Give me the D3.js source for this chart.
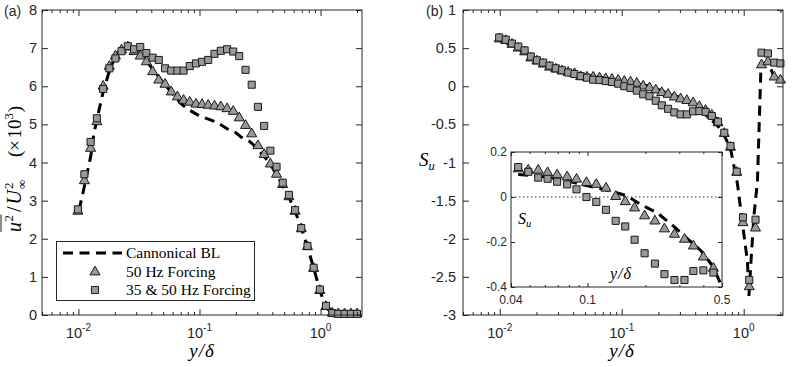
<!DOCTYPE html>
<html><head><meta charset="utf-8">
<script src="https://cdn.jsdelivr.net/npm/d3@7"></script>
<style>body{margin:0;background:#fff}svg{display:block}</style>
</head><body>
<svg id="c" width="793" height="367"></svg>
<script>
// ---------- DATA ----------
const yDelta = [0.0099,0.0112,0.0126,0.0142,0.0160,0.0180,0.0202,0.0227,0.0256,0.0288,
  0.0324,0.0364,0.0410,0.0461,0.0519,0.0584,0.0657,0.0739,0.0831,0.0935,
  0.105,0.118,0.133,0.150,0.169,0.190,0.213,0.240,0.270,0.304,
  0.342,0.385,0.433,0.487,0.548,0.616,0.693,0.780,0.877,0.987,
  1.11,1.25,1.40,1.58,1.78,2.0];
// (a) u'^2/U^2 x10^3
const uu50 = [2.72,3.52,4.37,5.07,6.0,6.52,6.79,6.95,7.03,6.91,
  6.79,6.64,6.38,6.16,6.05,5.85,5.72,5.63,5.58,5.53,
  5.52,5.5,5.48,5.46,5.41,5.34,5.17,4.97,4.75,4.44,
  4.21,3.96,3.69,3.42,3.1,2.72,2.26,1.79,1.22,0.64,
  0.22,0.05,0.03,0.03,0.03,0.03];
const uu3550 = [2.77,3.69,4.54,5.16,5.93,6.47,6.73,6.92,7.05,6.97,
  7.03,6.87,6.75,6.69,6.47,6.41,6.41,6.41,6.53,6.6,
  6.64,6.69,6.85,6.93,6.97,6.91,6.79,6.43,6.04,5.46,
  4.96,4.31,3.89,3.47,3.15,2.75,2.28,1.81,1.24,0.67,
  0.24,0.05,0.03,0.03,0.03,0.03];
const uuBLx = [0.0101,0.0109,0.0127,0.0134,0.0145,0.016,0.018,0.02,0.0225,0.026,
  0.03,0.035,0.04,0.05,0.06,0.07,0.08,0.1,0.12,0.14,
  0.17,0.2,0.22,0.26,0.28,0.31,0.35,0.39,0.44,0.49,
  0.55,0.62,0.7,0.78,0.88,0.99,1.11,1.25];
const uuBLy = [2.75,3.2,4.2,4.75,5.25,5.85,6.4,6.75,6.95,7.02,
  6.92,6.72,6.5,6.1,5.8,5.55,5.4,5.22,5.13,5.05,
  4.88,4.78,4.67,4.55,4.46,4.3,4.12,3.92,3.65,3.38,
  3.08,2.7,2.25,1.78,1.22,0.63,0.2,0.04];
// (b) skewness S_u
const su50 = [0.62,0.6,0.55,0.5,0.45,0.37,0.33,0.29,0.25,0.225,
  0.2,0.18,0.165,0.125,0.119,0.119,0.108,0.098,0.089,0.079,
  0.064,0.056,0.039,0.002,-0.021,-0.049,-0.084,-0.107,-0.142,-0.166,
  -0.188,-0.218,-0.267,-0.317,-0.38,-0.48,-0.62,-0.8,-1.13,-1.79,
  -2.63,-1.86,0.28,0.32,0.12,0.08];
const su3550 = [0.64,0.61,0.56,0.52,0.47,0.39,0.34,0.31,0.27,0.235,
  0.21,0.18,0.16,0.133,0.112,0.086,0.081,0.068,0.056,0.034,
  0.0,-0.022,-0.057,-0.106,-0.131,-0.19,-0.25,-0.296,-0.343,-0.369,
  -0.369,-0.329,-0.326,-0.336,-0.39,-0.465,-0.61,-0.785,-1.12,-1.72,
  -2.54,-1.75,0.44,0.43,0.31,0.30];
const suBLx = [0.0101,0.0126,0.016,0.02,0.025,0.032,0.04,0.05,0.063,0.08,
  0.1,0.12,0.14,0.16,0.19,0.23,0.28,0.34,0.4,0.45,
  0.5,0.56,0.62,0.69,0.78,0.889,0.968,1.074,1.104,1.147,
  1.213,1.296,1.346,1.385,1.40,1.58,1.78,2.0];
const suBLy = [0.6,0.54,0.44,0.34,0.27,0.2,0.15,0.12,0.1,0.08,
  0.06,0.04,0.025,0.01,-0.03,-0.08,-0.13,-0.19,-0.24,-0.31,
  -0.39,-0.46,-0.53,-0.64,-0.82,-1.28,-1.75,-2.3,-2.75,-2.3,
  -1.7,-1.25,-0.4,0.26,0.28,0.32,0.12,0.08];
// inset (points 13..33 of the S_u series)
const insetFirst = 13;
const insetX = [0.0436,0.0492,0.0554,0.062,0.0695,0.0783,0.0876,0.0987,0.111,0.1247,
  0.140,0.157,0.1756,0.198,0.224,0.251,0.283,0.319,0.355,0.40,0.451];
const insetBLx = [0.0436,0.06,0.08,0.1,0.12,0.14,0.16,0.19,0.23,0.28,0.33,0.39,0.45,0.5];
const insetBLy = [0.10,0.09,0.07,0.05,0.035,0.02,0.005,-0.035,-0.07,-0.13,-0.185,-0.24,-0.31,-0.4];
// ticks / labels
const ticksA = [0,1,2,3,4,5,6,7,8];
const ticksB = [1,0.5,0,-0.5,-1,-1.5,-2,-2.5,-3];
const decadeTicks = [0.01,0.1,1];
const decadeLabels = ["-2","-1","0"];
const insetYTicks = [0.2,0,-0.2,-0.4];
const insetXTicks = [0.04,0.1,0.5];
const insetXLabels = ["0.04","0.1","0.5"];
const legendLabels = ["Cannonical BL","50 Hz Forcing","35 & 50 Hz Forcing"];

// ---------- DRAWING ----------
const svg = d3.select("#c");
const AX = "#262626", FILL = "#999999", MSTROKE = "#1a1a1a";
const SANS = "'Liberation Sans', Arial, sans-serif";
const SERIF = "'Liberation Serif', 'Times New Roman', serif";
const triSym = d3.symbol(d3.symbolTriangle).size(44);
const sqSym = d3.symbol(d3.symbolSquare).size(50);

function minorLog(lo, hi){
  const out=[];
  for(let e=-3;e<=1;e++) for(let k=1;k<=9;k++){const v=+(k*Math.pow(10,e)).toPrecision(3); if(v>=lo*0.999&&v<=hi*1.001) out.push(v);}
  return out;
}

function ticks(g, axisFn, scale, vals, len, tr){
  g.append("g").attr("transform",tr)
    .call(axisFn(scale).tickValues(vals).tickSize(-len).tickSizeOuter(0).tickFormat(""))
    .call(s=>s.select(".domain").remove())
    .call(s=>s.selectAll("line").attr("stroke",AX).attr("stroke-width",1));
}

function frame(g, x, y, xMaj, xMin, yMaj, majLen, minLen){
  const [x0,x1]=x.range(), [yb,yt]=y.range();
  ticks(g,d3.axisBottom,x,xMaj,majLen,`translate(0,${yb})`);
  ticks(g,d3.axisBottom,x,xMin,minLen,`translate(0,${yb})`);
  ticks(g,d3.axisTop,x,xMaj,majLen,`translate(0,${yt})`);
  ticks(g,d3.axisTop,x,xMin,minLen,`translate(0,${yt})`);
  ticks(g,d3.axisLeft,y,yMaj,majLen,`translate(${x0},0)`);
  ticks(g,d3.axisRight,y,yMaj,majLen,`translate(${x1},0)`);
  g.append("rect").attr("x",x0).attr("y",yt).attr("width",x1-x0).attr("height",yb-yt)
    .attr("fill","none").attr("stroke",AX).attr("stroke-width",1);
}

function yLabels(g, y, vals, xpos, size){
  g.selectAll(null).data(vals).join("text")
    .attr("x",xpos).attr("y",d=>y(d)).attr("dy","0.35em")
    .attr("text-anchor","end").attr("font-family",SANS).attr("font-size",size).attr("fill",AX)
    .text(d=>String(d));
}

function decLabels(g, x, ypos){
  decadeTicks.forEach((v,i)=>{
    const t = g.append("text").attr("x",x(v)).attr("y",ypos).attr("text-anchor","middle")
      .attr("font-family",SANS).attr("font-size",14.5).attr("fill",AX);
    t.append("tspan").text("10");
    t.append("tspan").attr("dy",-7).attr("font-size",10).text(decadeLabels[i]);
  });
}

function xTitle(g, cx, ypos){
  g.append("text").attr("x",cx).attr("y",ypos).attr("text-anchor","middle")
    .attr("font-family",SERIF).attr("font-size",19).attr("font-style","italic")
    .attr("letter-spacing",1).attr("fill","#000").text("y/δ");
}

function series(g, x, y, xs, ys, cls){
  const pts = xs.map((d,i)=>[d, ys[i]]);
  g.selectAll(null).data(pts).join("path")
    .attr("d", cls==="tri"?triSym:sqSym)
    .attr("transform",d=>`translate(${x(d[0])},${y(d[1])})`)
    .attr("fill",FILL).attr("stroke",MSTROKE).attr("stroke-width",1);
}

function dashed(g, x, y, xs, ys, clipId){
  const pts = xs.map((d,i)=>[d, ys[i]]);
  g.append("path").datum(pts)
    .attr("d", d3.line().x(d=>x(d[0])).y(d=>y(d[1])))
    .attr("fill","none").attr("stroke","#000").attr("stroke-width",3)
    .attr("stroke-dasharray","10,6.5").attr("clip-path",`url(#${clipId})`);
}

function clip(id, x, y){
  const [x0,x1]=x.range(), [yb,yt]=y.range();
  svg.append("clipPath").attr("id",id).append("rect")
    .attr("x",x0).attr("y",yt).attr("width",x1-x0).attr("height",yb-yt);
}

// ---- panel (a) ----
const xA = d3.scaleLog().domain([0.005,2.2]).range([42,362]);
const yA = d3.scaleLinear().domain([0,8]).range([315,10]);
const gA = svg.append("g");
clip("clipA", xA, yA);
dashed(gA, xA, yA, uuBLx, uuBLy, "clipA");
series(gA, xA, yA, yDelta, uu50, "tri");
series(gA, xA, yA, yDelta, uu3550, "sq");
frame(gA, xA, yA, decadeTicks, minorLog(0.005,2.2).filter(v=>!decadeTicks.includes(v)), ticksA, 6, 3);
yLabels(gA, yA, ticksA, 37, 14.5);
decLabels(gA, xA, 338);
xTitle(gA, 202, 357);
gA.append("text").attr("x",4).attr("y",16).attr("font-family",SANS).attr("font-size",14).attr("fill",AX).text("(a)");

// y-label of (a)  (rotated; local x runs bottom -> top)
(function(){
  const g = svg.append("g");
  let cx = 0;
  const add = (txt, size, dy, italic) => {
    const t = g.append("text").attr("x",cx).attr("y",dy).attr("font-family",SERIF)
      .attr("font-size",size).attr("font-style",italic?"italic":"normal").attr("fill","#000").text(txt);
    return t.node().getComputedTextLength();
  };
  cx += add("u",20,0,true) + 0.5;
  cx += add("2",13,-8,false);
  g.append("line").attr("x1",0).attr("x2",cx+0.5).attr("y1",-20).attr("y2",-20)
    .attr("stroke","#000").attr("stroke-width",0.9);
  cx += 3;
  cx += add("/",20,0,false) + 2;
  cx += add("U",20,0,true) + 1;
  add("2",13,-8,false);
  add("∞",13,5,false);
  cx = 75;
  cx += add("(",19,0,false);
  cx += add("×",19,0,false) + 1.5;
  cx += add("10",19,0,false);
  cx += add("3",12.5,-8,false) + 1;
  cx += add(")",19,0,false);
  g.attr("transform",`translate(21,232) rotate(-90)`);
})();

// legend
(function(){
  const g = svg.append("g");
  g.append("rect").attr("x",56.5).attr("y",241.5).attr("width",198).attr("height",59)
    .attr("fill","#fff").attr("stroke",AX).attr("stroke-width",1);
  g.append("line").attr("x1",63).attr("x2",122).attr("y1",253).attr("y2",253)
    .attr("stroke","#000").attr("stroke-width",3).attr("stroke-dasharray","10,6.5");
  g.append("path").attr("d",triSym).attr("transform","translate(95,272)").attr("fill",FILL).attr("stroke",MSTROKE);
  g.append("path").attr("d",sqSym).attr("transform","translate(95,290)").attr("fill",FILL).attr("stroke",MSTROKE);
  g.selectAll(null).data(legendLabels).join("text")
    .attr("x",126).attr("y",(d,i)=>258+i*18.5)
    .attr("font-family",SERIF).attr("font-size",15.5).attr("fill","#000").text(d=>d);
})();

// ---- panel (b) ----
const xB = d3.scaleLog().domain([0.005,2.1]).range([463,783]);
const yB = d3.scaleLinear().domain([-3,1]).range([315,10]);
const gB = svg.append("g");
clip("clipB", xB, yB);
dashed(gB, xB, yB, suBLx, suBLy, "clipB");
series(gB, xB, yB, yDelta, su50, "tri");
series(gB, xB, yB, yDelta, su3550, "sq");
frame(gB, xB, yB, decadeTicks, minorLog(0.005,2.1).filter(v=>!decadeTicks.includes(v)), ticksB, 6, 3);
yLabels(gB, yB, ticksB, 456, 14.5);
decLabels(gB, xB, 338);
xTitle(gB, 622, 357);
gB.append("text").attr("x",426).attr("y",16).attr("font-family",SANS).attr("font-size",14).attr("fill",AX).text("(b)");
(function(){
  const t = gB.append("text").attr("x",419).attr("y",166).attr("font-family",SERIF).attr("fill","#000");
  t.append("tspan").attr("font-size",19).attr("font-style","italic").text("S");
  t.append("tspan").attr("font-size",12.5).attr("font-style","italic").attr("dy",4).text("u");
})();

// ---- inset ----
const xI = d3.scaleLog().domain([0.04,0.5]).range([511,722]);
const yI = d3.scaleLinear().domain([-0.4,0.2]).range([287,152]);
const gI = svg.append("g");
gI.append("rect").attr("x",511).attr("y",152).attr("width",211).attr("height",135).attr("fill","#fff");
clip("clipI", xI, yI);
gI.append("line").attr("x1",511).attr("x2",722).attr("y1",yI(0)).attr("y2",yI(0))
  .attr("stroke","#333").attr("stroke-width",1).attr("stroke-dasharray","1.5,2.5");
dashed(gI, xI, yI, insetBLx, insetBLy, "clipI");
series(gI, xI, yI, insetX, su50.slice(insetFirst, insetFirst+insetX.length), "tri");
series(gI, xI, yI, insetX, su3550.slice(insetFirst, insetFirst+insetX.length), "sq");
frame(gI, xI, yI, insetXTicks, minorLog(0.04,0.5).filter(v=>!insetXTicks.includes(v)), insetYTicks, 4, 2);
yLabels(gI, yI, insetYTicks, 507, 12);
gI.selectAll(null).data(insetXTicks).join("text")
  .attr("x",d=>xI(d)).attr("y",304).attr("text-anchor","middle")
  .attr("font-family",SANS).attr("font-size",12).attr("fill",AX).text((d,i)=>insetXLabels[i]);
(function(){
  const t = gI.append("text").attr("x",518).attr("y",224).attr("font-family",SERIF).attr("fill","#000");
  t.append("tspan").attr("font-size",16).attr("font-style","italic").text("S");
  t.append("tspan").attr("font-size",10.5).attr("font-style","italic").attr("dy",3).text("u");
  gI.append("text").attr("x",621).attr("y",279).attr("text-anchor","middle").attr("font-family",SERIF)
    .attr("font-size",16).attr("font-style","italic").attr("letter-spacing",1).attr("fill","#000").text("y/δ");
})();
</script>
</body></html>
